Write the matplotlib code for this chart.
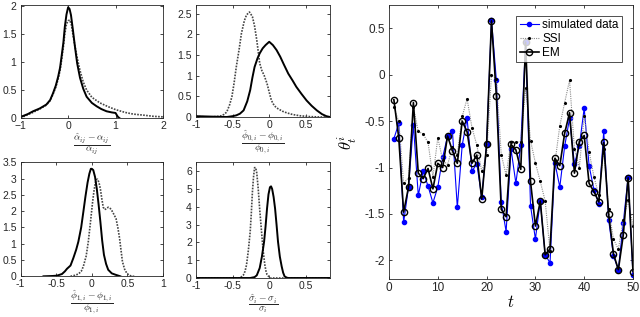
import matplotlib
matplotlib.use("Agg")
import matplotlib.pyplot as plt
import numpy as np

plt.rcParams['font.family'] = ['Liberation Sans', 'DejaVu Sans']
plt.rcParams['mathtext.fontset'] = 'cm'

# ---- density panel data ----
a_x_solid = [-1.0, -0.85, -0.74, -0.6, -0.46, -0.38, -0.32, -0.26, -0.21, -0.17, -0.14, -0.1, -0.07, -0.035, 0.0, 0.03, 0.06, 0.1, 0.14, 0.19, 0.25, 0.32, 0.39, 0.5, 0.6, 0.7, 0.81, 0.92, 1.0, 1.02, 1.05, 1.08]
a_y_solid = [0.02, 0.07, 0.12, 0.17, 0.24, 0.32, 0.44, 0.58, 0.74, 0.9, 1.09, 1.35, 1.63, 1.85, 1.98, 1.95, 1.84, 1.58, 1.3, 0.98, 0.72, 0.52, 0.38, 0.27, 0.21, 0.16, 0.12, 0.1, 0.09, 0.06, 0.02, 0.0]
a_x_dot = [-1.0, -0.85, -0.74, -0.6, -0.46, -0.38, -0.32, -0.26, -0.21, -0.17, -0.14, -0.1, -0.07, -0.035, 0.0, 0.035, 0.07, 0.1, 0.14, 0.19, 0.25, 0.32, 0.39, 0.5, 0.67, 0.85, 1.0, 1.2, 1.37, 1.6, 1.8, 2.0]
a_y_dot = [0.0, 0.06, 0.1, 0.16, 0.23, 0.31, 0.42, 0.55, 0.7, 0.85, 1.02, 1.27, 1.5, 1.68, 1.74, 1.75, 1.66, 1.5, 1.3, 1.08, 0.85, 0.64, 0.5, 0.37, 0.27, 0.2, 0.15, 0.1, 0.07, 0.05, 0.03, 0.02]

p0_x_solid = [-1.0, -0.8, -0.58, -0.5, -0.45, -0.4, -0.35, -0.3, -0.26, -0.23, -0.2, -0.16, -0.13, -0.09, -0.05, 0.0, 0.05, 0.1, 0.15, 0.2, 0.26, 0.32, 0.37, 0.44, 0.51, 0.58, 0.65, 0.72, 0.78, 0.83]
p0_y_solid = [0.02, 0.01, 0.0, 0.02, 0.04, 0.08, 0.16, 0.38, 0.65, 0.95, 1.21, 1.42, 1.54, 1.66, 1.74, 1.82, 1.74, 1.62, 1.46, 1.27, 1.05, 0.88, 0.73, 0.56, 0.4, 0.27, 0.16, 0.07, 0.02, 0.0]
p0_x_dot = [-1.0, -0.8, -0.67, -0.62, -0.58, -0.54, -0.51, -0.48, -0.45, -0.41, -0.38, -0.34, -0.31, -0.27, -0.23, -0.2, -0.17, -0.13, -0.1, -0.07, -0.03, 0.0, 0.03, 0.07, 0.12, 0.18, 0.24, 0.32, 0.42, 0.55, 0.7, 0.83]
p0_y_dot = [0.01, 0.0, 0.02, 0.06, 0.12, 0.3, 0.49, 0.82, 1.21, 1.65, 2.02, 2.33, 2.47, 2.54, 2.43, 2.2, 1.86, 1.3, 1.12, 1.01, 0.81, 0.6, 0.4, 0.27, 0.2, 0.14, 0.1, 0.06, 0.03, 0.01, 0.0, 0.0]

p1_x_solid = [-0.68, -0.55, -0.49, -0.42, -0.38, -0.35, -0.3, -0.26, -0.22, -0.19, -0.15, -0.12, -0.09, -0.06, -0.035, -0.014, 0.0, 0.02, 0.045, 0.07, 0.095, 0.12, 0.145, 0.17, 0.2, 0.23, 0.28, 0.33, 0.4]
p1_y_solid = [0.0, 0.01, 0.02, 0.07, 0.15, 0.23, 0.33, 0.56, 0.82, 1.06, 1.5, 1.97, 2.45, 2.88, 3.15, 3.3, 3.3, 3.26, 3.05, 2.68, 2.2, 1.67, 1.1, 0.66, 0.38, 0.2, 0.09, 0.05, 0.0]
p1_x_dot = [-0.3, -0.24, -0.19, -0.15, -0.12, -0.08, -0.05, -0.02, 0.01, 0.03, 0.05, 0.065, 0.08, 0.1, 0.12, 0.14, 0.16, 0.18, 0.2, 0.23, 0.26, 0.28, 0.31, 0.34, 0.365, 0.39, 0.41, 0.43, 0.46, 0.49, 0.52, 0.56, 0.6]
p1_y_dot = [0.0, 0.03, 0.07, 0.15, 0.3, 0.62, 1.06, 1.65, 2.27, 2.62, 2.88, 2.97, 2.98, 2.88, 2.68, 2.38, 2.12, 2.05, 2.07, 2.12, 2.08, 2.02, 1.9, 1.77, 1.5, 1.16, 0.8, 0.45, 0.22, 0.1, 0.04, 0.0, 0.0]

s_x_dot = [-1.0, -0.6, -0.4, -0.355, -0.33, -0.31, -0.285, -0.26, -0.245, -0.23, -0.215, -0.2, -0.185, -0.17, -0.15, -0.13, -0.105, -0.085, -0.06, -0.045, -0.03, 0.01, 0.3, 0.83]
s_y_dot = [0.0, 0.0, 0.0, 0.15, 0.38, 0.74, 1.55, 2.6, 3.6, 4.8, 5.65, 6.2, 6.2, 5.9, 5.0, 3.85, 2.6, 1.6, 0.74, 0.4, 0.19, 0.0, 0.0, 0.0]
s_x_solid = [-1.0, -0.5, -0.26, -0.2, -0.17, -0.13, -0.1, -0.07, -0.05, -0.03, -0.01, 0.01, 0.025, 0.04, 0.06, 0.08, 0.1, 0.12, 0.145, 0.17, 0.19, 0.21, 0.24, 0.26, 0.4, 0.83]
s_y_solid = [0.0, 0.0, 0.0, 0.05, 0.15, 0.56, 1.2, 2.04, 2.9, 3.9, 4.7, 5.1, 5.15, 5.0, 4.55, 3.9, 3.0, 2.04, 1.2, 0.65, 0.3, 0.09, 0.02, 0.0, 0.0, 0.0]

# ---- time series data ----
t = list(range(1, 51))
sim = [-0.69, -0.525, -1.59, -1.21, -0.54, -1.30, -1.04, -1.20, -1.38, -1.21,
       -0.89, -0.66, -0.61, -1.43, -0.76, -0.47, -1.04, -0.96, -1.32, -0.75,
       0.59, -0.06, -1.375, -1.69, -0.80, -1.17, -0.76, 0.35, -1.41, -1.77,
       -1.36, -1.94, -2.025, -0.95, -1.21, -0.77, -0.47, -0.96, -0.77, -0.36,
       -0.98, -1.24, -1.39, -0.61, -1.56, -1.95, -2.10, -1.60, -1.10, -2.16]
ssi = [-0.35, -0.50, -1.17, -1.11, -0.35, -0.61, -0.64, -0.73, -1.10, -0.68,
       -0.92, -0.97, -0.78, -0.86, -0.45, -0.26, -0.57, -0.76, -1.04, -0.87,
       0.00, -0.05, -0.86, -1.08, -0.72, -0.73, -0.72, -0.14, -0.71, -0.95,
       -1.15, -1.36, -1.90, -0.95, -0.55, -0.30, -0.06, -0.80, -1.00, -0.44,
       -0.83, -1.10, -1.30, -0.80, -1.45, -1.77, -1.88, -1.56, -1.35, -1.63]
em = [-0.27, -0.68, -1.48, -1.21, -0.30, -1.06, -1.12, -1.01, -1.23, -0.955,
      -1.00, -0.66, -0.82, -0.955, -0.50, -0.615, -0.955, -0.865, -1.34, -0.75,
      0.58, -0.23, -1.45, -1.53, -0.75, -0.81, -1.02, 0.35, -1.15, -1.63,
      -1.36, -1.94, -1.875, -0.90, -0.98, -0.63, -0.41, -1.06, -0.72, -0.655,
      -1.17, -1.26, -1.37, -0.73, -1.50, -1.93, -2.10, -1.73, -1.11, -2.12]

W, H = 640, 317
fig = plt.figure(figsize=(W / 100, H / 100), dpi=100)

spine_c = '#262626'

def style(ax, ls=7.5):
    ax.tick_params(direction='in', top=True, right=True, labelsize=ls, length=2.5,
                   width=0.6, colors=spine_c)
    ax.tick_params(axis='x', pad=2)
    ax.tick_params(axis='y', pad=3)
    for s in ax.spines.values():
        s.set_linewidth(0.6)
        s.set_color(spine_c)

def pax(l, t_, r, b):
    return fig.add_axes([l / W, 1 - b / H, (r - l) / W, (b - t_) / H])

def flabel(l, r, bottom_px, txt):
    fig.text((l + r) / 2 / W, 1 - bottom_px / H, txt, ha='center', va='bottom',
             fontsize=7, color='#262626')

solid_kw = dict(color='black', lw=1.4)
dot_kw = dict(color='#444444', lw=1.2, ls=(0, (1, 0.8)))

ax1 = pax(20.7, 5, 163, 118)
ax1.plot(a_x_dot, a_y_dot, **dot_kw)
ax1.plot(a_x_solid, a_y_solid, **solid_kw)
ax1.set_xlim(-1, 2)
ax1.set_ylim(0, 2.02)
ax1.set_xticks([-1, 0, 1, 2])
ax1.set_yticks([0, 0.5, 1, 1.5, 2])
ax1.set_yticklabels(['0', '0.5', '1', '1.5', '2'])
style(ax1)
flabel(20.7, 163, 156, r'$\dfrac{\hat{\alpha}_{ij}-\alpha_{ij}}{\alpha_{ij}}$')

ax2 = pax(196, 5, 330, 117)
ax2.plot(p0_x_dot, p0_y_dot, **dot_kw)
ax2.plot(p0_x_solid, p0_y_solid, **solid_kw)
ax2.set_xlim(-1, 0.83)
ax2.set_ylim(0, 2.71)
ax2.set_xticks([-1, -0.5, 0, 0.5])
ax2.set_xticklabels(['-1', '-0.5', '0', '0.5'])
ax2.set_yticks([0, 0.5, 1, 1.5, 2, 2.5])
ax2.set_yticklabels(['0', '0.5', '1', '1.5', '2', '2.5'])
style(ax2)
flabel(196, 330, 156, r'$\dfrac{\hat{\phi}_{0,i}-\phi_{0,i}}{\phi_{0,i}}$')

ax3 = pax(20.7, 162.3, 163, 276.3)
ax3.plot(p1_x_dot, p1_y_dot, **dot_kw)
ax3.plot(p1_x_solid, p1_y_solid, **solid_kw)
ax3.set_xlim(-1, 1)
ax3.set_ylim(0, 3.5)
ax3.set_xticks([-1, -0.5, 0, 0.5, 1])
ax3.set_xticklabels(['-1', '-0.5', '0', '0.5', '1'])
ax3.set_yticks([0, 0.5, 1, 1.5, 2, 2.5, 3, 3.5])
ax3.set_yticklabels(['0', '0.5', '1', '1.5', '2', '2.5', '3', '3.5'])
style(ax3)
flabel(20.7, 163, 316, r'$\dfrac{\hat{\phi}_{1,i}-\phi_{1,i}}{\phi_{1,i}}$')

ax4 = pax(196, 162.3, 330, 278)
ax4.plot(s_x_dot, s_y_dot, **dot_kw)
ax4.plot(s_x_solid, s_y_solid, **solid_kw)
ax4.set_xlim(-1, 0.83)
ax4.set_ylim(0, 6.5)
ax4.set_xticks([-1, -0.5, 0, 0.5])
ax4.set_xticklabels(['-1', '-0.5', '0', '0.5'])
ax4.set_yticks([0, 1, 2, 3, 4, 5, 6])
style(ax4)
flabel(196, 330, 315, r'$\dfrac{\hat{\sigma}_i-\sigma_i}{\sigma_i}$')

ax5 = pax(389, 5, 633, 279)
ax5.plot(t, sim, color='#0000ff', lw=0.8, marker='.', ms=6, label='simulated data')
ax5.plot(t, ssi, color='#8c8c8c', lw=0.8, ls=(0, (1, 1)), marker='.', ms=2.5,
         mfc='black', mec='black', label='SSI')
ax5.plot(t, em, color='black', lw=1.2, marker='o', ms=4.5, mfc='none', mew=1.0, label='EM')
ax5.set_xlim(0, 50)
ax5.set_ylim(-2.2, 0.75)
ax5.set_xticks([0, 10, 20, 30, 40, 50])
ax5.set_yticks([-2, -1.5, -1, -0.5, 0, 0.5])
ax5.set_yticklabels(['-2', '-1.5', '-1', '-0.5', '0', '0.5'])
ax5.set_xlabel(r'$t$', fontsize=12, labelpad=0)
ax5.set_ylabel(r'$\theta_t^i$', fontsize=12, labelpad=4)
style(ax5, 8.5)
leg = ax5.legend(loc='upper right', fontsize=8.5, frameon=True, fancybox=False,
                 edgecolor='black', handlelength=1.6, handletextpad=0.3,
                 borderpad=0.3, labelspacing=0.15, borderaxespad=0.9)
leg.get_frame().set_linewidth(0.6)

fig.savefig('out.png', dpi=100)
